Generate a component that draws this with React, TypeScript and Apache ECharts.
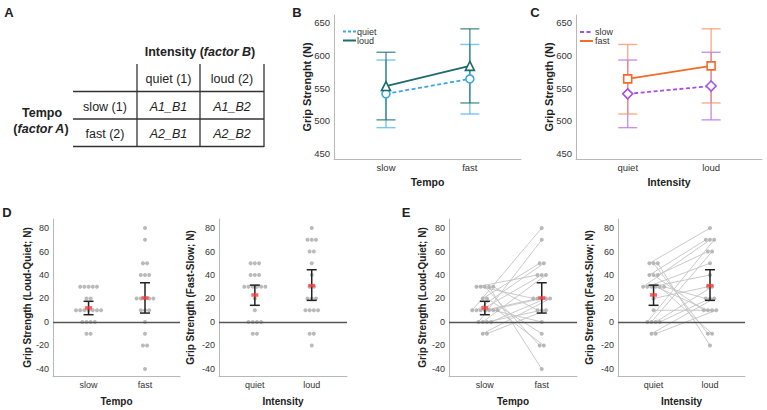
import React, { useEffect, useRef } from "react";
import * as echarts from "echarts";

const FONT = '"Liberation Sans", Arial, Helvetica, sans-serif';

// ---------- data ----------
const tempoCats = ["slow", "fast"];
const intensityCats = ["quiet", "loud"];
const yTicksBC = [450, 500, 550, 600, 650];
const yTicksDE = [-40, -20, 0, 20, 40, 60, 80];

// Panel B: x = tempo (slow, fast)
const legendB = ["quiet", "loud"];
const quietMeans = [541, 564];
const loudMeans = [553, 584];
const quietCI = [[489, 593], [510, 617]];
const loudCI = [[501, 605], [527, 641]];

// Panel C: x = intensity (quiet, loud)
const legendC = ["slow", "fast"];
const slowMeans = [541, 553];
const fastMeans = [564, 584];
const slowCI = [[489, 593], [501, 605]];
const fastCI = [[510, 617], [527, 641]];

// Subject-level differences (Loud-Quiet) at slow / fast tempo
const lqSlow = [30, 30, 30, 30, 30, 20, 20, 10, 10, 10, 10, 10, 10, 10, 0, 0, 0, 0, -10, -10];
const lqFast = [40, 20, -20, -40, 10, 50, -10, 80, 50, 40, 20, 20, 0, -20, 70, 40, 10, 20, 20, 10];
const lqMeans = [12, 20.5];
const lqCI = [[6.2, 17.6], [7.6, 33.4]];

// Subject-level differences (Fast-Slow) at quiet / loud intensity
const fsQuiet = [50, 50, 50, 40, 40, 40, 30, 30, 30, 30, 30, 30, 20, 10, 0, 0, 0, 0, -10, -10];
const fsLoud = [80, -10, -20, 70, 10, 60, 70, 50, 40, 10, -10, 20, 30, 10, 70, 60, 30, 20, 20, 10];
const fsMeans = [23, 31];
const fsCI = [[14.2, 31.4], [18.4, 44.5]];

// table (panel A)
const tableColHeader = "Intensity";
const tableCols = ["quiet (1)", "loud (2)"];
const tableRows = ["slow (1)", "fast (2)"];
const tableCells = [["A1_B1", "A1_B2"], ["A2_B1", "A2_B2"]];

// ---------- helpers ----------
const grids = [
  { left: 334, top: 15, width: 187, height: 144 },
  { left: 576, top: 15, width: 186, height: 144 },
  { left: 53, top: 219, width: 127, height: 157 },
  { left: 219, top: 219, width: 128, height: 157 },
  { left: 449, top: 219, width: 128, height: 157 },
  { left: 618, top: 219, width: 127, height: 157 },
];

const SPACING = 0.074;

function swarm(values: number[], cat: number): number[][] {
  const counts: Record<string, number> = {};
  values.forEach((v) => (counts[v] = (counts[v] || 0) + 1));
  const seen: Record<string, number> = {};
  return values.map((v) => {
    const r = seen[v] || 0;
    seen[v] = r + 1;
    const n = counts[v];
    return [cat + (r - (n - 1) / 2) * SPACING, v];
  });
}

function errBarRender(capHalf: number, color: string, width: number) {
  return (params: any, api: any) => {
    const x = api.value(0);
    const lo = api.coord([x, api.value(1)]);
    const hi = api.coord([x, api.value(2)]);
    const st = { stroke: color, lineWidth: width };
    return {
      type: "group",
      children: [
        { type: "line", shape: { x1: lo[0], y1: lo[1], x2: hi[0], y2: hi[1] }, style: st },
        { type: "line", shape: { x1: lo[0] - capHalf, y1: lo[1], x2: lo[0] + capHalf, y2: lo[1] }, style: st },
        { type: "line", shape: { x1: hi[0] - capHalf, y1: hi[1], x2: hi[0] + capHalf, y2: hi[1] }, style: st },
      ],
    };
  };
}

function xAxis(gi: number, cats: string[], min: number, max: number, name: string, o: any) {
  return {
    type: "value",
    gridIndex: gi,
    min,
    max,
    name,
    nameLocation: "middle",
    nameGap: o.nameGap,
    nameMoveOverlap: false,
    nameTextStyle: { fontWeight: "bold", fontSize: o.nameSize, color: "#222", fontFamily: FONT },
    axisLine: { show: true, onZero: false, lineStyle: { color: "#b8b8b8", width: 1 } },
    axisTick: { show: false },
    splitLine: { show: false },
    axisLabel: {
      customValues: [0, 1],
      formatter: (v: number) => cats[Math.round(v)] ?? "",
      fontSize: o.labelSize,
      color: "#333",
      margin: o.labelMargin,
      fontFamily: FONT,
    },
  };
}

function yAxis(gi: number, ticks: number[], min: number, max: number, name: string, o: any) {
  return {
    type: "value",
    gridIndex: gi,
    min,
    max,
    name,
    nameLocation: "middle",
    nameGap: o.nameGap,
    nameMoveOverlap: false,
    nameRotate: 90,
    nameTextStyle: { fontWeight: "bold", fontSize: o.nameSize, color: "#222", fontFamily: FONT },
    axisLine: { show: true, onZero: false, lineStyle: { color: "#b8b8b8", width: 1 } },
    axisTick: { show: false },
    splitLine: { show: false },
    axisLabel: {
      customValues: ticks,
      fontSize: o.labelSize,
      color: "#333",
      margin: 4,
      fontFamily: FONT,
    },
  };
}

function meansLine(gi: number, name: string, means: number[], color: string, dashed: boolean, symbol: string, size: number) {
  return {
    type: "line",
    name,
    xAxisIndex: gi,
    yAxisIndex: gi,
    data: means.map((m, i) => [i, m]),
    z: 5,
    lineStyle: { color, width: 1.8, type: dashed ? [4, 2.5] : "solid" },
    symbol,
    symbolSize: size,
    itemStyle: { color: "#ffffff", borderColor: color, borderWidth: 1.6 },
  };
}

function ciSeries(gi: number, ci: number[][], color: string, capHalf: number, width: number, z: number) {
  return {
    type: "custom",
    xAxisIndex: gi,
    yAxisIndex: gi,
    z,
    data: ci.map((c, i) => [i, c[0], c[1]]),
    encode: { x: 0, y: [1, 2] },
    renderItem: errBarRender(capHalf, color, width),
  };
}

function diffPanel(gi: number, a: number[], b: number[], means: number[], ci: number[][], withLines: boolean) {
  const pa = swarm(a, 0);
  const pb = swarm(b, 1);
  const out: any[] = [];
  if (withLines) {
    out.push({
      type: "custom",
      xAxisIndex: gi,
      yAxisIndex: gi,
      z: 1,
      data: pa.map((p, i) => [p[0], p[1], pb[i][0], pb[i][1]]),
      encode: { x: [0, 2], y: [1, 3] },
      renderItem: (params: any, api: any) => {
        const p1 = api.coord([api.value(0), api.value(1)]);
        const p2 = api.coord([api.value(2), api.value(3)]);
        return {
          type: "line",
          shape: { x1: p1[0], y1: p1[1], x2: p2[0], y2: p2[1] },
          style: { stroke: "#c4c4c4", lineWidth: 0.9 },
        };
      },
    });
  }
  out.push({
    type: "scatter",
    xAxisIndex: gi,
    yAxisIndex: gi,
    z: 2,
    symbolSize: 4,
    itemStyle: { color: "#a9a9a9" },
    data: [...pa, ...pb],
    markLine: {
      silent: true,
      symbol: "none",
      label: { show: false },
      lineStyle: { color: "#555", width: 1.3, type: "solid" },
      data: [{ yAxis: 0 }],
    },
  });
  out.push(ciSeries(gi, ci, "#222", 5, 1.5, 3));
  out.push({
    type: "scatter",
    xAxisIndex: gi,
    yAxisIndex: gi,
    z: 4,
    symbol: "rect",
    symbolSize: [7, 3.5],
    itemStyle: { color: "#ff3b3b" },
    data: means.map((m, i) => [i, m]),
  });
  return out;
}

function txt(text: string, x: number, y: number, font: string, align = "center", extra: any = {}) {
  return {
    type: "text",
    silent: true,
    style: {
      text,
      x,
      y,
      font,
      fill: "#222",
      align,
      verticalAlign: "middle",
      textAlign: align,
      textVerticalAlign: "middle",
      ...extra,
    },
  };
}

function ln(x1: number, y1: number, x2: number, y2: number, stroke: string, lineWidth: number, lineDash?: number[]) {
  return {
    type: "line",
    silent: true,
    shape: { x1, y1, x2, y2 },
    style: { stroke, lineWidth, lineDash },
  };
}

export default function App() {
  const ref = useRef<HTMLDivElement>(null);
  useEffect(() => {
    document.body.style.margin = "0";
    if (!ref.current) return;
    const chart = echarts.init(ref.current, undefined, { renderer: "svg" });

    const oBC = { nameGap: 22, nameSize: 11, labelSize: 9.5, labelMargin: 3 };
    const oBCx = { nameGap: 17, nameSize: 10.5, labelSize: 9.5, labelMargin: 3 };
    const oDE = { nameGap: 21, nameSize: 10, labelSize: 9, labelMargin: 4 };
    const oDE2 = { nameGap: 24, nameSize: 10, labelSize: 9, labelMargin: 4 };
    const oDE3 = { nameGap: 22, nameSize: 10, labelSize: 9, labelMargin: 4 };
    const oDEx = { nameGap: 20, nameSize: 10, labelSize: 9, labelMargin: 4 };

    const bcMin = 440.8, bcMax = 662.3;
    const deMin = -46, deMax = 87.7;
    const xMin = -0.62, xMax = 1.61;
    const dxMin = -0.63, dxMax = 1.62;

    const bold13 = `bold 13px ${FONT}`;
    const bold12 = `bold 12.5px ${FONT}`;
    const reg12 = `12.5px ${FONT}`;
    const ital12 = `italic 12.5px ${FONT}`;
    const leg = `9px ${FONT}`;

    const tblStroke = "#333";
    const graphic: any[] = [
      // panel letters
      txt("A", 9, 12, bold13),
      txt("B", 297, 12, bold13),
      txt("C", 535, 12, bold13),
      txt("D", 7, 212, bold13),
      txt("E", 406, 212, bold13),
      // table
      {
        type: "text",
        silent: true,
        style: {
          text: `{b|${tableColHeader} (}{bi|factor B}{b|)}`,
          x: 200,
          y: 52,
          align: "center",
          verticalAlign: "middle",
          textAlign: "center",
          textVerticalAlign: "middle",
          rich: {
            b: { font: bold12, fill: "#222" },
            bi: { font: `italic bold 12.5px ${FONT}`, fill: "#222" },
          },
        },
      },
      ln(137, 64, 137, 147, tblStroke, 1.3),
      ln(200, 64, 200, 147, tblStroke, 1.3),
      ln(264, 64, 264, 147, tblStroke, 1.3),
      ln(73, 91.5, 264, 91.5, tblStroke, 1.3),
      ln(73, 119, 264, 119, tblStroke, 1.3),
      ln(73, 146.5, 264, 146.5, tblStroke, 1.3),
      txt(tableCols[0], 168.5, 79, reg12),
      txt(tableCols[1], 232, 79, reg12),
      txt(tableRows[0], 105, 107, reg12),
      txt(tableRows[1], 105, 134, reg12),
      txt(tableCells[0][0], 168.5, 107, ital12),
      txt(tableCells[0][1], 232, 107, ital12),
      txt(tableCells[1][0], 168.5, 134, ital12),
      txt(tableCells[1][1], 232, 134, ital12),
      txt("Tempo", 42, 113, bold12),
      {
        type: "text",
        silent: true,
        style: {
          text: `{b|(}{bi|factor A}{b|)}`,
          x: 41,
          y: 129,
          align: "center",
          verticalAlign: "middle",
          textAlign: "center",
          textVerticalAlign: "middle",
          rich: {
            b: { font: bold12, fill: "#222" },
            bi: { font: `italic bold 12.5px ${FONT}`, fill: "#222" },
          },
        },
      },
      // legend B
      ln(343, 31.5, 356, 31.5, "#3aa6e3", 2, [3, 2]),
      txt(legendB[0], 357, 31.5, leg, "left", { fill: "#333" }),
      ln(343, 40.5, 356, 40.5, "#1e6b6b", 2),
      txt(legendB[1], 357, 40.5, leg, "left", { fill: "#333" }),
      // legend C
      ln(580, 32, 593, 32, "#a64ee8", 2, [4, 2.5]),
      txt(legendC[0], 595, 32, leg, "left", { fill: "#333" }),
      ln(580, 41, 593, 41, "#f26b2b", 2),
      txt(legendC[1], 595, 41, leg, "left", { fill: "#333" }),
    ];

    const option: any = {
      animation: false,
      backgroundColor: "#ffffff",
      textStyle: { fontFamily: FONT },
      grid: grids.map((g) => ({ ...g, containLabel: false })),
      xAxis: [
        xAxis(0, tempoCats, xMin, xMax, "Tempo", oBCx),
        xAxis(1, intensityCats, xMin, xMax, "Intensity", oBCx),
        xAxis(2, tempoCats, dxMin, dxMax, "Tempo", oDEx),
        xAxis(3, intensityCats, dxMin, dxMax, "Intensity", oDEx),
        xAxis(4, tempoCats, dxMin, dxMax, "Tempo", oDEx),
        xAxis(5, intensityCats, dxMin, dxMax, "Intensity", oDEx),
      ],
      yAxis: [
        yAxis(0, yTicksBC, bcMin, bcMax, "Grip Strenght (N)", oBC),
        yAxis(1, yTicksBC, bcMin, bcMax, "Grip Strength (N)", oBC),
        yAxis(2, yTicksDE, deMin, deMax, "Grip Strength (Loud-Quiet; N)", oDE),
        yAxis(3, yTicksDE, deMin, deMax, "Grip Strength (Fast-Slow; N)", oDE2),
        yAxis(4, yTicksDE, deMin, deMax, "Grip Strength (Loud-Quiet; N)", oDE3),
        yAxis(5, yTicksDE, deMin, deMax, "Grip Strength (Fast-Slow; N)", oDE2),
      ],
      series: [
        ciSeries(0, quietCI, "rgba(90,185,232,0.8)", 9.5, 1.4, 2),
        ciSeries(0, loudCI, "rgba(30,112,112,0.75)", 9.5, 1.4, 2),
        meansLine(0, legendB[0], quietMeans, "#3aa6e3", true, "circle", 8),
        meansLine(0, legendB[1], loudMeans, "#1e6b6b", false, "triangle", 9),
        ciSeries(1, slowCI, "rgba(178,110,240,0.75)", 9.5, 1.4, 2),
        ciSeries(1, fastCI, "rgba(245,140,90,0.7)", 9.5, 1.4, 2),
        meansLine(1, legendC[0], slowMeans, "#a64ee8", true, "diamond", 10),
        meansLine(1, legendC[1], fastMeans, "#f26b2b", false, "rect", 8),
        ...diffPanel(2, lqSlow, lqFast, lqMeans, lqCI, false),
        ...diffPanel(3, fsQuiet, fsLoud, fsMeans, fsCI, false),
        ...diffPanel(4, lqSlow, lqFast, lqMeans, lqCI, true),
        ...diffPanel(5, fsQuiet, fsLoud, fsMeans, fsCI, true),
      ],
      graphic,
    };
    chart.setOption(option);
    return () => chart.dispose();
  }, []);
  return <div ref={ref} style={{ width: 767, height: 410 }} />;
}
